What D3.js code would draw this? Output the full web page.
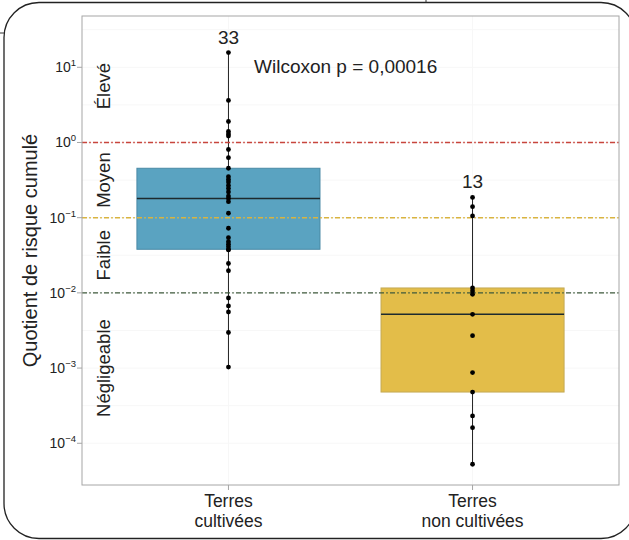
<!DOCTYPE html>
<html><head><meta charset="utf-8">
<script src="https://cdn.jsdelivr.net/npm/d3@7"></script>
<style>body{margin:0;background:#fff}svg{display:block}text{font-family:"Liberation Sans",Arial,sans-serif;fill:#222}</style>
</head><body><svg id="c" width="629" height="540"></svg>
<script>
const categories = ["Terres cultivées", "Terres non cultivées"];
const categoryLines = [["Terres", "cultivées"], ["Terres", "non cultivées"]];
const cultivees = [15.7, 3.62, 1.90, 1.40, 1.30, 1.22, 0.807, 0.628, 0.454, 0.351, 0.322, 0.298, 0.268, 0.245, 0.220, 0.194, 0.180, 0.163, 0.1145, 0.0723, 0.0542, 0.0480, 0.0443, 0.0411, 0.0380, 0.0372, 0.0246, 0.0197, 0.00855, 0.0067, 0.00557, 0.00297, 0.00103];
const nonCultivees = [0.186, 0.140, 0.1054, 0.01162, 0.0106, 0.00958, 0.00519, 0.0027, 0.00087, 0.00048, 0.000231, 0.000161, 0.0000526];
const seriesValues = [cultivees, nonCultivees];
const yTickExponents = [1, 0, -1, -2, -3, -4];
const thresholds = [1, 0.1, 0.01];
const thresholdColors = ["#c8453c", "#d9b440", "#3f5a3c"];
const riskLabels = ["Élevé", "Moyen", "Faible", "Négligeable"];
const riskLabelValues = [Math.pow(10, 0.75), Math.pow(10, -0.5), Math.pow(10, -1.5), Math.pow(10, -3)];
const boxColors = ["#5aa3c1", "#e3bd49"];
const boxStroke = ["#4a8aa6", "#c4aa55"];
const pText = "Wilcoxon p = 0,00016";

const svg = d3.select("#c");
const L = 82, R = 619, T = 16, B = 485;

// frame
svg.append("rect").attr("x", 4).attr("y", 2.5).attr("width", 632).attr("height", 536)
  .attr("rx", 35).attr("fill", "none").attr("stroke", "#222").attr("stroke-width", 1.3);
svg.append("line").attr("x1", 0).attr("x2", 4).attr("y1", 33).attr("y2", 33).attr("stroke", "#333");
svg.append("line").attr("x1", 426).attr("x2", 426).attr("y1", 0).attr("y2", 2.5).attr("stroke", "#333");

const x = d3.scalePoint().domain(categories).range([L, R]).padding(0.6);
const y = d3.scaleLog().domain([Math.pow(10, -4.555), Math.pow(10, 1.682)]).range([B, T]);

// faint grid
const gridVals = [];
for (let e = -4; e <= 1.5; e += 0.5) gridVals.push(Math.pow(10, e));
svg.append("g").selectAll("line").data(gridVals).join("line")
  .attr("x1", L).attr("x2", R).attr("y1", d => y(d)).attr("y2", d => y(d))
  .attr("stroke", "#f7f7f7").attr("stroke-width", 1);
svg.append("g").selectAll("line").data(categories).join("line")
  .attr("x1", d => x(d)).attr("x2", d => x(d)).attr("y1", T).attr("y2", B)
  .attr("stroke", "#f7f7f7");

// boxes
const bw = x.step() * 0.75;
categories.forEach((c, i) => {
  const lv = seriesValues[i].map(v => Math.log10(v)).sort(d3.ascending);
  const q1 = d3.quantile(lv, 0.25), med = d3.quantile(lv, 0.5), q3 = d3.quantile(lv, 0.75);
  const iqr = q3 - q1;
  const lo = d3.min(lv.filter(v => v >= q1 - 1.5 * iqr));
  const hi = d3.max(lv.filter(v => v <= q3 + 1.5 * iqr));
  const p = e => y(Math.pow(10, e));
  const cx = x(c);
  const g = svg.append("g");
  g.append("line").attr("x1", cx).attr("x2", cx).attr("y1", p(hi)).attr("y2", p(q3)).attr("stroke", "#222").attr("stroke-width", 1);
  g.append("line").attr("x1", cx).attr("x2", cx).attr("y1", p(q1)).attr("y2", p(lo)).attr("stroke", "#222").attr("stroke-width", 1);
  g.append("rect").attr("x", cx - bw / 2).attr("width", bw).attr("y", p(q3)).attr("height", p(q1) - p(q3))
    .attr("fill", boxColors[i]).attr("stroke", boxStroke[i]).attr("stroke-width", 1);
  g.append("line").attr("x1", cx - bw / 2).attr("x2", cx + bw / 2).attr("y1", p(med)).attr("y2", p(med))
    .attr("stroke", "#1d2a2e").attr("stroke-width", 1.6);
  svg.append("text").attr("x", cx).attr("y", p(hi) - 9).attr("text-anchor", "middle")
    .attr("font-size", 19).text(seriesValues[i].length);
});

// threshold lines
svg.append("g").selectAll("line").data(thresholds).join("line")
  .attr("x1", L).attr("x2", R).attr("y1", d => y(d)).attr("y2", d => y(d))
  .attr("stroke", (d, i) => thresholdColors[i]).attr("stroke-width", 1.4)
  .attr("stroke-dasharray", "5,2.2,1.6,2.2");

// points
categories.forEach((c, i) => {
  svg.append("g").selectAll("circle").data(seriesValues[i]).join("circle")
    .attr("cx", x(c)).attr("cy", d => y(d)).attr("r", 2.4).attr("fill", "#000");
});

// panel border
svg.append("rect").attr("x", L).attr("y", T).attr("width", R - L).attr("height", B - T)
  .attr("fill", "none").attr("stroke", "#a6a6a6").attr("stroke-width", 1);

// y axis
const yt = svg.append("g");
yTickExponents.forEach(e => {
  const v = Math.pow(10, e), yy = y(v);
  yt.append("line").attr("x1", L - 5).attr("x2", L).attr("y1", yy).attr("y2", yy).attr("stroke", "#a6a6a6");
  const t = yt.append("text").attr("x", L - 6).attr("y", yy + 5).attr("text-anchor", "end").attr("font-size", 14);
  t.append("tspan").text("10");
  t.append("tspan").attr("font-size", 9.5).attr("dy", -6).text(e < 0 ? "\u2212" + (-e) : String(e));
});
// x axis
categories.forEach((c, i) => {
  svg.append("line").attr("x1", x(c)).attr("x2", x(c)).attr("y1", B).attr("y2", B + 5).attr("stroke", "#a6a6a6");
  categoryLines[i].forEach((ln, j) => svg.append("text").attr("text-anchor", "middle").attr("font-size", 17.5)
    .attr("x", x(c)).attr("y", 507 + j * 20).text(ln));
});

// y title
svg.append("text").attr("transform", `translate(37,${(T + B) / 2}) rotate(-90)`)
  .attr("text-anchor", "middle").attr("font-size", 20).text("Quotient de risque cumulé");

// risk labels
riskLabels.forEach((lab, i) => {
  svg.append("text").attr("transform", `translate(110,${y(riskLabelValues[i])}) rotate(-90)`)
    .attr("text-anchor", "middle").attr("font-size", 18.5).text(lab);
});

svg.append("text").attr("x", 254).attr("y", 73).attr("font-size", 19).text(pText);
</script></body></html>
